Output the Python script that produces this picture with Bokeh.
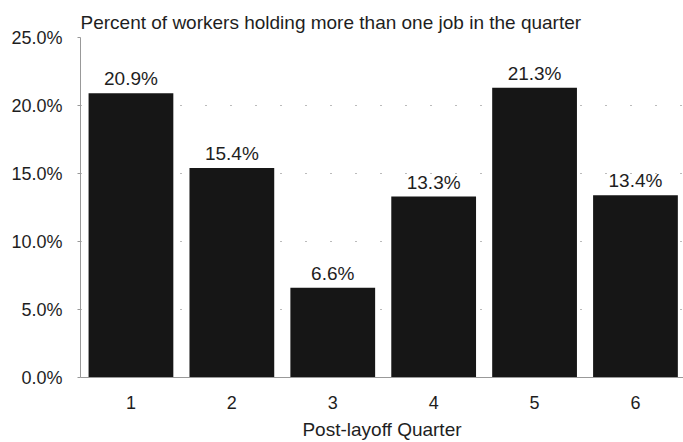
from bokeh.plotting import figure
from bokeh.models import ColumnDataSource, NumeralTickFormatter, Range1d, LabelSet
from bokeh.core.properties import value
from bokeh.embed import file_html
from bokeh.resources import INLINE

quarters = [1, 2, 3, 4, 5, 6]
share = [0.209, 0.154, 0.066, 0.133, 0.213, 0.134]
labels = ["20.9%", "15.4%", "6.6%", "13.3%", "21.3%", "13.4%"]
y_ticks = [0.0, 0.05, 0.10, 0.15, 0.20, 0.25]

FONT = "Liberation Sans"
FS = "18px"
FL = "19px"
TXT = "#1e1e1e"
src = ColumnDataSource(dict(q=quarters, v=share, lab=labels))

p = figure(width=683, height=442, output_backend="svg", toolbar_location=None,
           x_range=Range1d(0.5, 6.476), y_range=Range1d(0, 0.25),
           title="Percent of workers holding more than one job in the quarter",
           min_border_left=80, min_border_right=0, min_border_top=37, min_border_bottom=62)
p.outline_line_color = None
p.title.text_font = FONT
p.title.text_font_size = FL
p.title.text_font_style = "normal"
p.title.text_color = TXT
p.title.align = "left"
p.title.standoff = 9

p.vbar(x="q", top="v", width=0.84, source=src, fill_color="#161616", line_color=None)
p.add_layout(LabelSet(x="q", y="v", text="lab", source=src, text_align="center",
                      text_baseline="bottom", y_offset=4, text_font=value(FONT),
                      text_font_size=value(FL), text_color=TXT))

p.yaxis.ticker = y_ticks
p.yaxis.formatter = NumeralTickFormatter(format="0.0%")
p.yaxis.axis_line_color = "#999999"
p.yaxis.major_tick_line_color = "#999999"
p.yaxis.major_tick_in = 0
p.yaxis.major_tick_out = 3
p.yaxis.minor_tick_line_color = None
p.yaxis.major_label_text_font = FONT
p.yaxis.major_label_text_font_size = FS
p.yaxis.major_label_text_color = TXT
p.yaxis.major_label_standoff = 15

p.xaxis.ticker = quarters
p.xaxis.axis_label = "Post-layoff Quarter"
p.xaxis.axis_line_color = "#999999"
p.xaxis.major_tick_line_color = None
p.xaxis.minor_tick_line_color = None
p.xaxis.major_label_text_font = FONT
p.xaxis.major_label_text_font_size = FS
p.xaxis.major_label_text_color = TXT
p.xaxis.major_label_standoff = 12
p.xaxis.axis_label_text_font = FONT
p.xaxis.axis_label_text_font_size = FL
p.xaxis.axis_label_text_font_style = "normal"
p.xaxis.axis_label_text_color = TXT
p.xaxis.axis_label_standoff = 7

p.xgrid.grid_line_color = None
p.ygrid.grid_line_color = "#777777"
p.ygrid.grid_line_dash = "1 24"
p.ygrid.grid_line_width = 1

open("out.html", "w").write(file_html(p, INLINE))
